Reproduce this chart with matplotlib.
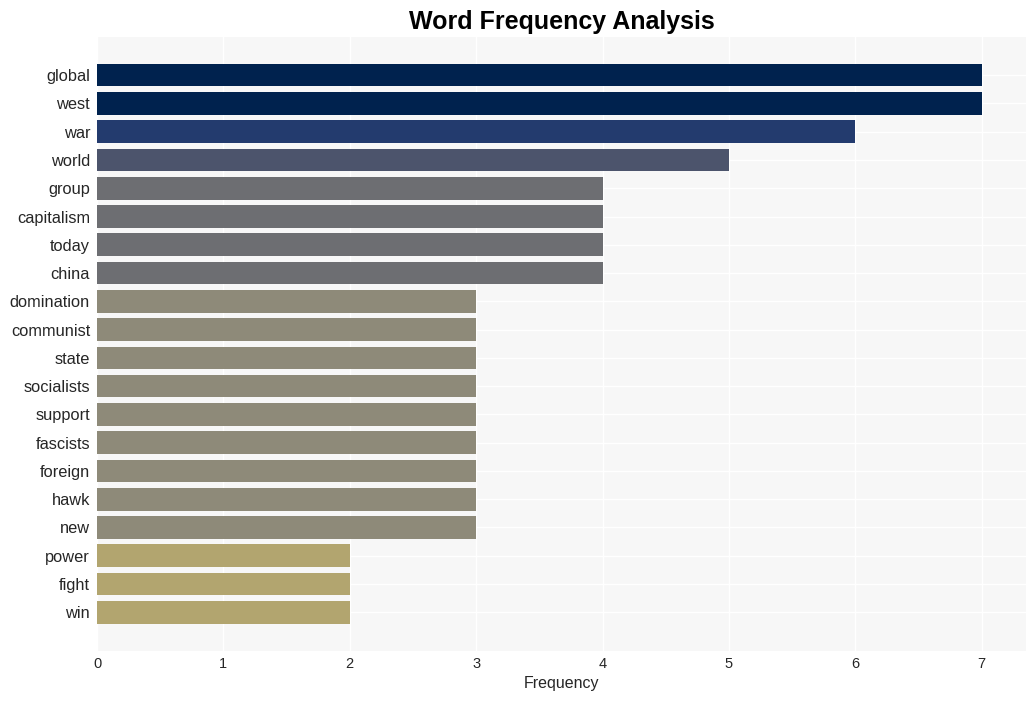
import matplotlib
matplotlib.use("Agg")
import matplotlib.pyplot as plt

plt.rcParams["font.family"] = ["Liberation Sans", "DejaVu Sans"]

words = ["global", "west", "war", "world", "group", "capitalism", "today", "china",
         "domination", "communist", "state", "socialists", "support", "fascists",
         "foreign", "hawk", "new", "power", "fight", "win"]
counts = [7, 7, 6, 5, 4, 4, 4, 4, 3, 3, 3, 3, 3, 3, 3, 3, 3, 2, 2, 2]
color_by_count = {7: "#00224e", 6: "#233b6e", 5: "#4c546c", 4: "#6d6e72",
                  3: "#8e8a79", 2: "#b2a56f"}

fig = plt.figure(figsize=(10.36, 7.01), dpi=100)
ax = fig.add_axes([97/1036, 1 - 651/701, (1026-97)/1036, (651-37)/701])
ax.set_facecolor("#f7f7f7")
ys = list(range(len(words)))
ax.barh(ys, counts, height=0.8, color=[color_by_count[c] for c in counts], zorder=2)
ax.set_yticks(ys)
ax.set_yticklabels(words, fontsize=11.8, color="#262626")
ax.set_ylim(len(words) - 1 + 1.37, -1.35)
ax.set_xlim(0, 7.35)
ax.set_xticks(range(8))
ax.tick_params(axis="x", labelsize=10.5, colors="#262626", length=0, pad=4)
ax.tick_params(axis="y", length=0, pad=5)
ax.grid(True, color="white", linewidth=1, zorder=0)
ax.set_axisbelow(True)
for s in ax.spines.values():
    s.set_visible(False)
ax.set_xlabel("Frequency", fontsize=11.5, color="#262626", labelpad=4)
ax.set_title("Word Frequency Analysis", fontsize=18, fontweight="bold", pad=6)
fig.savefig("out.png", dpi=100, facecolor="white")
